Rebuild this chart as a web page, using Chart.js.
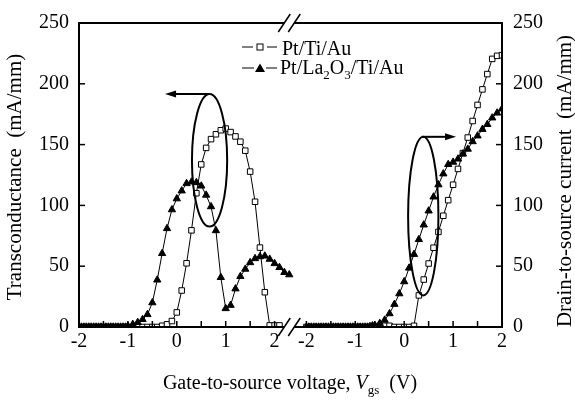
<!DOCTYPE html>
<html><head><meta charset="utf-8">
<script src="https://cdn.jsdelivr.net/npm/chart.js@4.4.1/dist/chart.umd.min.js"></script>
<style>html,body{margin:0;padding:0;background:#fff;}canvas{display:block;}</style>
</head><body>
<canvas id="c" width="575" height="401"></canvas>
<script>
// ---------- DATA ----------
// Left panel: transconductance gm (mA/mm) vs Vgs (V)
const gmX_PtTiAu = [-2.0,-1.9,-1.8,-1.7,-1.6,-1.5,-1.4,-1.3,-1.2,-1.1,-1.0,-0.9,-0.8,-0.7,-0.6,-0.5,-0.4,-0.3,-0.2,-0.1,0.0,0.1,0.2,0.3,0.4,0.5,0.6,0.7,0.8,0.9,1.0,1.1,1.2,1.3,1.4,1.5,1.6,1.7,1.8,1.9,2.0,2.1];
const gm_PtTiAu  = [0,0,0,0,0,0,0,0,0,0,0,0,0,0,0,0,0,1.0,2.2,4.9,12,30,52.4,79.5,110,133.7,147.3,154.5,158.5,161.8,163.2,160.3,156.7,152.4,145,127.8,103,65.3,28.6,1.3,1.3,1.3];

const gmX_La = [-2.0,-1.95,-1.9,-1.85,-1.8,-1.75,-1.7,-1.65,-1.6,-1.55,-1.5,-1.45,-1.4,-1.35,-1.3,-1.25,-1.2,-1.15,-1.1,-1.05,-1.0,-0.9,-0.8,-0.7,-0.6,-0.5,-0.4,-0.3,-0.2,-0.1,0.0,0.1,0.2,0.3,0.4,0.5,0.6,0.7,0.8,0.9,1.0,1.1,1.2,1.3,1.4,1.5,1.6,1.7,1.8,1.9,2.0,2.1,2.2,2.3];
const gm_La  = [0,0,0,0,0,0,0,0,0,0,0,0,0,0,0,0,0,0,0,0,0.8,2.2,3.8,6.2,10.3,20,38.7,60.5,81,96.5,105.5,112,118,119.3,118.8,116,108.5,99,79.3,40.8,15.2,17.9,31.4,41.6,47.6,53,56.3,57.9,58.4,55.8,52.2,49,44.9,43];

// Right panel: drain-to-source current Ids (mA/mm) vs Vgs (V)
const idsX_PtTiAu = [-2.0,-1.9,-1.8,-1.7,-1.6,-1.5,-1.4,-1.3,-1.2,-1.1,-1.0,-0.9,-0.8,-0.7,-0.6,-0.5,-0.4,-0.3,-0.2,-0.1,0.0,0.1,0.2,0.3,0.4,0.5,0.6,0.7,0.8,0.9,1.0,1.1,1.2,1.3,1.4,1.5,1.6,1.7,1.8,1.9,2.0];
const ids_PtTiAu  = [0,0,0,0,0,0,0,0,0,0,0,0,0,0,0,0,1,1,0,0,0,0,1.0,26,39,52.2,65.2,78.2,91.5,104.3,117,130,143,155.8,169.4,182.6,195.4,208,220.5,223,223.5];

const idsX_La = [-2.0,-1.95,-1.9,-1.85,-1.8,-1.75,-1.7,-1.65,-1.6,-1.55,-1.5,-1.45,-1.4,-1.35,-1.3,-1.25,-1.2,-1.15,-1.1,-1.05,-1.0,-0.95,-0.9,-0.85,-0.8,-0.75,-0.7,-0.65,-0.6,-0.5,-0.4,-0.3,-0.2,-0.1,0.0,0.1,0.2,0.3,0.4,0.5,0.6,0.7,0.8,0.9,1.0,1.1,1.2,1.3,1.4,1.5,1.6,1.7,1.8,1.9,2.0];
const ids_La  = [0,0,0,0,0,0,0,0,0,0,0,0,0,0,0,0,0,0,0,0,0,0,0,0,0,0,0.5,1,1.5,3,5.7,11,18.7,27.4,37.3,48.5,59.8,72,84,95.5,107,117,126,133.7,135.6,138.2,142.3,146.3,152.5,157.2,162.6,166.6,172,176,179.4];

// Tick labels
const xTickLabels = [-2,-1,0,1,2];
const xMinorTicks = [-2,-1.5,-1,-0.5,0,0.5,1,1.5,2];
const yTickValues = [0,50,100,150,200,250];

// Annotations (data units)
const leftEllipse  = {cx:0.67, cy:137.1, rx:0.36, ry:54.5};
const leftArrow    = {x0:0.67, x1:-0.24, y:191.6};
const rightEllipse = {cx:0.39, cy:91.2, rx:0.31, ry:65.2};
const rightArrow   = {x0:0.36, x1:1.06, y:156.4};

// Broken axis: the right panel is shifted along one shared x scale
const RIGHT_OFFSET = 4.65;
const X_MAX = 2 + RIGHT_OFFSET;
const BREAK_X = 2.3;

const FONT = "'Liberation Serif', 'Times New Roman', serif";

function pts(xs, ys, off) { return xs.map((x, i) => ({x: x + off, y: ys[i]})); }

function line(ctx, x0, y0, x1, y1) { ctx.beginPath(); ctx.moveTo(x0, y0); ctx.lineTo(x1, y1); ctx.stroke(); }

function rich(ctx, parts, x, y, align) {
  let w = 0;
  parts.forEach(p => { ctx.font = p.font; w += ctx.measureText(p.t).width; });
  let cx = align === 'center' ? x - w / 2 : x;
  ctx.textAlign = 'left';
  parts.forEach(p => { ctx.font = p.font; ctx.fillText(p.t, cx, y + (p.dy || 0)); cx += ctx.measureText(p.t).width; });
}

function arrowHead(ctx, x, y, dir) {
  ctx.beginPath();
  ctx.moveTo(x, y);
  ctx.lineTo(x - dir * 11, y - 3.5);
  ctx.lineTo(x - dir * 11, y + 3.5);
  ctx.closePath();
  ctx.fill();
}

const annot = {
  id: 'annot',
  afterDatasetsDraw(chart) {
    const ctx = chart.ctx, a = chart.chartArea;
    const sx = chart.scales.x, sy = chart.scales.y, sy2 = chart.scales.y2;
    ctx.save();
    ctx.strokeStyle = '#000'; ctx.fillStyle = '#000';
    // frame
    ctx.lineWidth = 2;
    ctx.strokeRect(a.left, a.top, a.right - a.left, a.bottom - a.top);
    // inward ticks
    ctx.lineWidth = 1.5;
    xMinorTicks.forEach(v => {
      [v, v + RIGHT_OFFSET].forEach(val => {
        const px = sx.getPixelForValue(val);
        line(ctx, px, a.bottom, px, a.bottom - 6);
      });
    });
    yTickValues.forEach(v => {
      const p1 = sy.getPixelForValue(v); line(ctx, a.left, p1, a.left + 6, p1);
      const p2 = sy2.getPixelForValue(v); line(ctx, a.right, p2, a.right - 6, p2);
    });
    // axis break marks
    const bx = sx.getPixelForValue(BREAK_X);
    [a.top, a.bottom].forEach(yy => {
      ctx.fillStyle = '#fff';
      ctx.fillRect(bx - 5, yy - 2, 10, 4);
      ctx.fillStyle = '#000';
      ctx.lineWidth = 1.5;
      [bx - 5, bx + 5].forEach(cx => line(ctx, cx - 6, yy + 9, cx + 6, yy - 9));
    });
    // ellipses + arrows
    ctx.lineWidth = 2;
    const le = leftEllipse;
    ctx.beginPath();
    ctx.ellipse(sx.getPixelForValue(le.cx), sy.getPixelForValue(le.cy),
      sx.getPixelForValue(le.cx + le.rx) - sx.getPixelForValue(le.cx),
      sy.getPixelForValue(le.cy) - sy.getPixelForValue(le.cy + le.ry), 0, 0, Math.PI * 2);
    ctx.stroke();
    const la = leftArrow, lay = sy.getPixelForValue(la.y);
    line(ctx, sx.getPixelForValue(la.x0), lay, sx.getPixelForValue(la.x1) + 8, lay);
    arrowHead(ctx, sx.getPixelForValue(la.x1), lay, -1);

    const re = rightEllipse;
    ctx.beginPath();
    ctx.ellipse(sx.getPixelForValue(re.cx + RIGHT_OFFSET), sy2.getPixelForValue(re.cy),
      sx.getPixelForValue(re.cx + re.rx) - sx.getPixelForValue(re.cx),
      sy2.getPixelForValue(re.cy) - sy2.getPixelForValue(re.cy + re.ry), 0, 0, Math.PI * 2);
    ctx.stroke();
    const ra = rightArrow, ray = sy2.getPixelForValue(ra.y);
    line(ctx, sx.getPixelForValue(ra.x0 + RIGHT_OFFSET), ray, sx.getPixelForValue(ra.x1 + RIGHT_OFFSET) - 8, ray);
    arrowHead(ctx, sx.getPixelForValue(ra.x1 + RIGHT_OFFSET), ray, 1);

    // legend
    ctx.lineWidth = 1;
    line(ctx, 242, 47, 253, 47); line(ctx, 267, 47, 277, 47);
    ctx.fillStyle = '#fff'; ctx.fillRect(257, 44, 6, 6); ctx.strokeRect(257, 44, 6, 6);
    ctx.fillStyle = '#000';
    line(ctx, 242, 68, 254, 68); line(ctx, 266, 68, 277, 68);
    ctx.beginPath(); ctx.moveTo(260, 63.5); ctx.lineTo(265, 72); ctx.lineTo(255, 72); ctx.closePath(); ctx.fill();
    ctx.textBaseline = 'alphabetic';
    rich(ctx, [{t:'Pt/Ti/Au', font:'20px ' + FONT}], 282, 55, 'left');
    rich(ctx, [
      {t:'Pt/La', font:'20px ' + FONT},
      {t:'2', font:'13px ' + FONT, dy:5},
      {t:'O', font:'20px ' + FONT},
      {t:'3', font:'13px ' + FONT, dy:5},
      {t:'/Ti/Au', font:'20px ' + FONT}], 280, 74, 'left');

    // x axis title
    rich(ctx, [
      {t:'Gate-to-source voltage, ', font:'20px ' + FONT},
      {t:'V', font:'italic 20px ' + FONT},
      {t:'gs', font:'13px ' + FONT, dy:5},
      {t:'  (V)', font:'20px ' + FONT}], 290, 389, 'center');

    // y axis titles
    ctx.font = '21px ' + FONT; ctx.textAlign = 'center'; ctx.textBaseline = 'middle';
    ctx.save(); ctx.translate(15, 177); ctx.rotate(-Math.PI / 2);
    ctx.fillText('Transconductance  (mA/mm)', 0, 0); ctx.restore();
    ctx.save(); ctx.translate(565, 181); ctx.rotate(-Math.PI / 2);
    ctx.fillText('Drain-to-source current  (mA/mm)', 0, 0); ctx.restore();
    ctx.restore();
  }
};

const sqStyle  = {borderColor:'#000', borderWidth:1, pointStyle:'rect', pointRadius:3.9, pointBackgroundColor:'#fff', pointBorderColor:'#000', pointBorderWidth:1, tension:0, fill:false, order:1};
const triStyle = {borderColor:'#000', borderWidth:1, pointStyle:'triangle', pointRadius:4.2, pointBackgroundColor:'#000', pointBorderColor:'#000', pointBorderWidth:1, tension:0, fill:false, order:0};

const yTicksOpts = (pad) => ({font:{family:FONT, size:20}, color:'#000', padding:pad});

new Chart(document.getElementById('c'), {
  type: 'line',
  data: {
    datasets: [
      Object.assign({label:'Pt/Ti/Au', data: pts(gmX_PtTiAu, gm_PtTiAu, 0), yAxisID:'y'}, sqStyle),
      Object.assign({label:'Pt/La2O3/Ti/Au', data: pts(gmX_La, gm_La, 0), yAxisID:'y'}, triStyle),
      Object.assign({label:'Pt/Ti/Au Ids', data: pts(idsX_PtTiAu, ids_PtTiAu, RIGHT_OFFSET), yAxisID:'y2'}, sqStyle),
      Object.assign({label:'Pt/La2O3/Ti/Au Ids', data: pts(idsX_La, ids_La, RIGHT_OFFSET), yAxisID:'y2'}, triStyle)
    ]
  },
  options: {
    responsive: false, animation: false, devicePixelRatio: 1,
    layout: {padding: {top: 19, left: 0, right: 0, bottom: 0}},
    plugins: {legend: {display: false}, tooltip: {enabled: false}},
    scales: {
      x: {
        type: 'linear', min: -2, max: X_MAX,
        grid: {display: false, drawTicks: false}, border: {display: false},
        afterBuildTicks: s => { s.ticks = xTickLabels.map(v => ({value: v})).concat(xTickLabels.map(v => ({value: v + RIGHT_OFFSET}))); },
        ticks: {font:{family:FONT, size:20}, color:'#000', padding:3, autoSkip:false, maxRotation:0,
          callback: v => String(Math.round(v > BREAK_X ? v - RIGHT_OFFSET : v))},
        afterFit: s => { s.height = 74; }
      },
      y: {
        position: 'left', min: 0, max: 250,
        grid: {display: false, drawTicks: false}, border: {display: false},
        afterBuildTicks: s => { s.ticks = yTickValues.map(v => ({value: v})); },
        ticks: yTicksOpts(10),
        afterFit: s => { s.width = 79; }
      },
      y2: {
        position: 'right', min: 0, max: 250,
        grid: {display: false, drawTicks: false}, border: {display: false},
        afterBuildTicks: s => { s.ticks = yTickValues.map(v => ({value: v})); },
        ticks: yTicksOpts(11),
        afterFit: s => { s.width = 73; }
      }
    }
  },
  plugins: [annot]
});
</script>
</body></html>
